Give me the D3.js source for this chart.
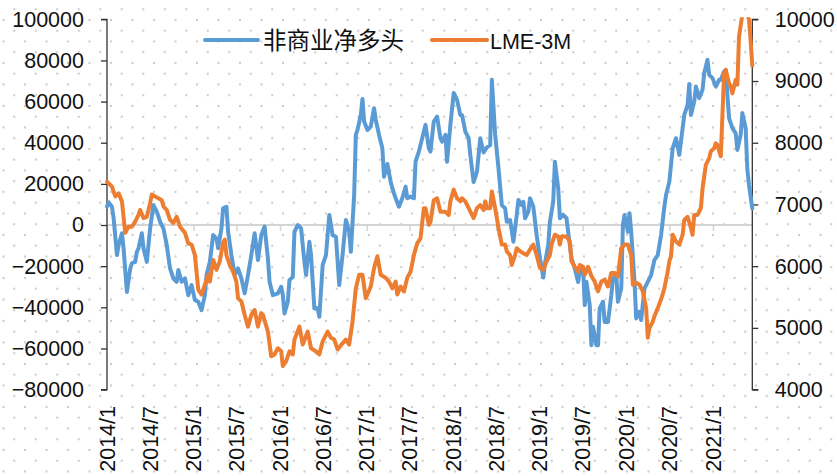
<!DOCTYPE html>
<html>
<head>
<meta charset="utf-8">
<script src="https://cdn.jsdelivr.net/npm/d3@7"></script>
<style>
  html, body { margin: 0; padding: 0; background: #fff; }
  svg { display: block; }
</style>
</head>
<body>
<svg id="chart" width="837" height="476"></svg>
<script>
// Weekly COT report dates are counted in weeks from the first report of 2014.
const FIRST_REPORT = new Date(2014, 0, 7);
const LAST_WEEK = 389;

const tickLabels = ["2014/1","2014/7","2015/1","2015/7","2016/1","2016/7","2017/1","2017/7",
                    "2018/1","2018/7","2019/1","2019/7","2020/1","2020/7","2021/1"];
const leftTicks = [-80000,-60000,-40000,-20000,0,20000,40000,60000,80000,100000];
const rightTicks = [4000,5000,6000,7000,8000,9000,10000];

const seriesNames = ["非商业净多头", "LME-3M"];

// Non-commercial net long (contracts)
const netLongWeek = [
  0,1,3,4,6,7,9,10,12,14, 15,17,18,19,21,22,24,26,28,30,
  32,34,36,38,40,42,43,45,47,49, 51,53,55,57,59,60,62,64,66,67,
  69,70,72,73,75,77,79,81,83,85, 87,89,91,93,95,97,98,100,103,105,
  106,107,109,110,112,113,115,117,119,120, 122,123,125,127,128,130,132,134,136,138,
  140,142,144,146,147,149,150,151,153,154, 155,157,159,161,162,164,166,167,169,171,
  172,173,174,176,178,180,181,183,185,186, 188,191,192,194,195,197,199,201,202,204,
  205,207,209,211,213,214,216,218,219,221, 223,225,227,229,231,232,234,236,238,240,
  241,243,245,247,248,250,251,252,254,255, 257,259,261,263,264,266,267,269,270,272,
  273,275,277,278,280,282,284,285,287,288, 289,291,292,293,295,296,297,299,300,302,
  304,305,307,308,310,311,312,314,315,316, 318,319,321,322,324,326,328,330,332,334,
  336,337,339,341,343,345,347,348,350,351, 352,354,355,357,359,360,362,363,365,367,
  369,370,372,373,374,375,377,379,380,382, 383,385,386,387,388,389
];
const netLong = [
  9000,11000,8900,3300,-14600,-9700,-4000,-11300,-32500,-21100, -18600,-17900,-13000,-11300,-4000,-11300,-17900,-1600,9700,6500,
  1600,-1600,-9700,-21100,-25900,-27600,-21900,-27600,-25900,-34100, -29200,-36500,-37300,-41400,-34100,-24300,-17900,-4900,-6500,-11300,
  -1600,8100,8900,-3300,-14600,-24300,-21100,-25900,-33200,-24300, -14600,-4000,-17000,-4900,-800,-16200,-27600,-34100,-33200,-30000,
  -34100,-43000,-37300,-26800,-25200,-3300,0,-1600,-17900,-24300, -8100,-14600,-40500,-40500,-44600,-19500,-14600,4900,-4900,-5700,
  -29200,-14600,2400,-3300,-13000,14600,43800,46200,53500,61300, 50300,46200,47800,56800,51100,43800,37300,23500,29700,21100,
  17900,15400,13000,8900,13000,18600,13000,13800,13000,30800, 35700,45400,48700,37300,35700,50300,52700,42200,40500,43800,
  30700,48700,64200,60800,53500,53500,45400,42200,34100,20900, 25800,42200,35300,37700,38900,70600,43800,27600,9700,8100,
  1600,2400,-8100,4900,12200,9700,11300,3300,6500,13000, 8900,-4900,-16200,-25500,-18600,-9700,1600,11300,30800,17900,
  3300,4900,3300,-3300,-16200,-21100,-27700,-22700,-21100,-38900, -27600,-38900,-58400,-49500,-58400,-58400,-40500,-37300,-47100,-47100,
  -34100,-25900,-24300,-37300,-30800,0,4900,-3300,5700,-3300, -27600,-45400,-42200,-46200,-30800,-27600,-24300,-17000,-14600,-4900,
  8900,14600,21100,37300,42200,34100,47100,53500,58400,68600, 53500,60000,67300,61700,65700,73800,80300,73000,71400,67300,
  70600,70600,74600,75400,63300,51900,47100,44600,36500,43800, 54400,47100,27200,19500,13800,8100
];

// LME 3-month price (USD/t)
const lmeWeek = [
  0,3,5,7,9,11,13,15,17,19, 20,22,24,26,27,29,31,33,34,36,
  38,40,42,44,47,49,51,53,55,57, 59,61,62,64,66,68,70,71,72,74,
  76,78,79,81,83,85,87,89,91,93, 94,97,99,101,103,105,106,108,110,112,
  113,116,118,121,123,126,128,130,133,135, 137,139,142,144,146,148,150,152,154,156,
  159,161,163,165,168,170,172,174,175,177, 179,181,183,185,187,189,191,192,194,195,
  197,199,201,202,204,206,207,209,211,213, 214,216,218,221,223,225,227,228,229,231,
  232,234,236,238,240,241,243,244,246,247, 249,251,253,255,257,259,261,263,265,267,
  268,270,272,273,274,277,279,280,282,284, 285,287,288,290,292,294,296,298,300,302,
  304,306,308,310,312,314,316,317,319,321, 323,325,326,327,329,330,332,334,336,338,
  339,340,341,343,345,347,348,350,352,353, 354,356,358,359,361,363,364,366,367,368,
  370,371,372,373,375,376,377,379,380,381, 383,384,385,386,387,388,389
];
const lme = [
  7370,7290,7130,7180,7050,6540,6640,6640,6720,6830, 6910,6780,6800,7020,7160,7130,7100,7070,6970,6910,
  6750,6700,6800,6640,6540,6370,6350,6180,5620,5540, 5700,5860,5750,6100,5940,6080,6380,6430,6180,6020,
  5910,5750,5480,5430,5210,5020,5210,5290,5020,5240, 5210,4940,4540,4570,4670,4620,4380,4460,4620,4570,
  4810,5020,4730,4940,4670,4620,4570,4780,4940,4840, 4810,4650,4750,4810,4730,5100,5640,5860,5860,5480,
  5670,5970,6160,5860,5810,5750,5640,5750,5540,5670, 5590,5810,5910,6180,6370,6450,6940,6940,6670,6720,
  7070,7100,6880,6880,6880,6830,7050,7240,7100,7050, 7100,7050,6940,6780,6940,6990,6910,7050,6940,6940,
  7210,6940,6620,6350,6350,6240,6180,6020,6180,6290, 6240,6210,6180,6270,6350,6180,5970,5940,6080,6180,
  6350,6510,6480,6350,6480,6480,6400,6080,5990,5910, 6020,5990,5860,5990,5840,5750,5590,5750,5780,5670,
  5890,5890,5830,6290,6350,6350,6180,5700,5730,5700, 5590,5320,4840,5000,5100,5190,5320,5460,5640,5910,
  6080,6160,6510,6400,6350,6510,6750,6800,6620,6510, 6830,6830,6940,7260,7640,7750,7860,7910,7990,7960,
  7780,8450,9130,9180,8960,8910,8800,9020,8940,9720, 10080,10120,10100,10080,10000,9650,9250
];

const weekDate = w => d3.timeDay.offset(FIRST_REPORT, 7 * w);
const parseTick = s => { const [y, m] = s.split("/").map(Number); return new Date(y, m - 1, 7); };

const svg = d3.select("#chart");
const W = 837, H = 476;
const plot = { left: 107, right: 752.3, top: 19.3, bottom: 389.6 };

const FONT = "'Liberation Sans', Arial, sans-serif";
const TEXT = "#111";
const BLUE = "#5B9BD5", ORANGE = "#ED7D31";

// Dotted backdrop
const defs = svg.append("defs");
const pat = defs.append("pattern")
  .attr("id", "dots").attr("patternUnits", "userSpaceOnUse")
  .attr("width", 21.5).attr("height", 21.5)
  .attr("x", 111 % 21.5).attr("y", 20 % 21.5);
pat.append("circle").attr("cx", 0).attr("cy", 0).attr("r", 1.1).attr("fill", "#c9c9c9");
pat.append("circle").attr("cx", 21.5).attr("cy", 0).attr("r", 1.1).attr("fill", "#c9c9c9");
pat.append("circle").attr("cx", 0).attr("cy", 21.5).attr("r", 1.1).attr("fill", "#c9c9c9");
pat.append("circle").attr("cx", 21.5).attr("cy", 21.5).attr("r", 1.1).attr("fill", "#c9c9c9");
pat.append("circle").attr("cx", 10.75).attr("cy", 10.75).attr("r", 1.1).attr("fill", "#c9c9c9");

svg.append("rect").attr("width", W).attr("height", H).attr("fill", "#fff");
svg.append("rect").attr("width", W).attr("height", H).attr("fill", "url(#dots)");

defs.append("clipPath").attr("id", "plotClip")
  .append("rect")
  .attr("x", plot.left - 4).attr("y", plot.top - 2)
  .attr("width", plot.right - plot.left + 8).attr("height", plot.bottom - plot.top + 4);

// Scales
const x = d3.scaleTime().domain([weekDate(0), weekDate(LAST_WEEK)]).range([plot.left, plot.right]);
const yL = d3.scaleLinear().domain([-80000, 100000]).range([plot.bottom, plot.top]);
const yR = d3.scaleLinear().domain([4000, 10000]).range([plot.bottom, plot.top]);

// Category axis drawn along zero
const tickDates = tickLabels.map(parseTick);
const xAxis = d3.axisBottom(x).tickValues(tickDates).tickSize(6).tickFormat("");
const gx = svg.append("g").attr("transform", `translate(0,${yL(0)})`).call(xAxis);
gx.select(".domain").attr("stroke", "#d4d4d4").attr("stroke-width", 2)
  .attr("d", `M${plot.left},0H${plot.right}`);
gx.selectAll(".tick line").attr("stroke", "#d4d4d4").attr("stroke-width", 1.5);

// Date labels in the low position
svg.append("g").selectAll("text")
  .data(tickDates)
  .join("text")
  .attr("transform", (d, i) => `translate(${x(d)},406) rotate(-90)`)
  .attr("text-anchor", "end")
  .attr("dy", "0.36em")
  .attr("font-family", FONT).attr("font-size", 21.5).attr("fill", TEXT)
  .text((d, i) => tickLabels[i]);

// Left value axis
const gl = svg.append("g").attr("transform", `translate(${plot.left},0)`)
  .call(d3.axisLeft(yL).tickValues(leftTicks).tickSize(6).tickPadding(17).tickFormat(d3.format("d")));
gl.select(".domain").attr("stroke", "#333").attr("stroke-width", 1.3).attr("d", `M-6,${plot.bottom}H0V${plot.top}H-6`);
gl.selectAll(".tick line").attr("stroke", "#333").attr("stroke-width", 1.3);
gl.selectAll(".tick text").attr("font-family", FONT).attr("font-size", 21.5).attr("fill", TEXT);

// Right value axis
const gr = svg.append("g").attr("transform", `translate(${plot.right},0)`)
  .call(d3.axisRight(yR).tickValues(rightTicks).tickSize(6).tickPadding(16.5).tickFormat(d3.format("d")));
gr.select(".domain").attr("stroke", "#333").attr("stroke-width", 1.3).attr("d", `M6,${plot.bottom}H0V${plot.top}H6`);
gr.selectAll(".tick line").attr("stroke", "#333").attr("stroke-width", 1.3);
gr.selectAll(".tick text").attr("font-family", FONT).attr("font-size", 21.5).attr("fill", TEXT);

// Series lines
const lines = svg.append("g").attr("clip-path", "url(#plotClip)");
const lineL = d3.line().x(d => x(weekDate(d[0]))).y(d => yL(d[1])).curve(d3.curveLinear);
const lineR = d3.line().x(d => x(weekDate(d[0]))).y(d => yR(d[1])).curve(d3.curveLinear);

lines.append("path")
  .datum(netLongWeek.map((w, i) => [w, netLong[i]]))
  .attr("d", lineL)
  .attr("fill", "none").attr("stroke", BLUE).attr("stroke-width", 4)
  .attr("stroke-linejoin", "round").attr("stroke-linecap", "round");

lines.append("path")
  .datum(lmeWeek.map((w, i) => [w, lme[i]]))
  .attr("d", lineR)
  .attr("fill", "none").attr("stroke", ORANGE).attr("stroke-width", 4)
  .attr("stroke-linejoin", "round").attr("stroke-linecap", "round");

// Legend
const legend = svg.append("g");
const legendItems = [
  { name: seriesNames[0], color: BLUE, x0: 205, x1: 258, tx: 263, font: "'Noto Sans CJK SC', sans-serif", size: 23.5 },
  { name: seriesNames[1], color: ORANGE, x0: 432, x1: 487, tx: 490, font: FONT, size: 21.5 }
];
legendItems.forEach(it => {
  legend.append("line")
    .attr("x1", it.x0).attr("x2", it.x1).attr("y1", 40).attr("y2", 40)
    .attr("stroke", it.color).attr("stroke-width", 4).attr("stroke-linecap", "round");
  legend.append("text")
    .attr("x", it.tx).attr("y", 41).attr("dy", "0.35em")
    .attr("font-family", it.font).attr("font-size", it.size).attr("fill", TEXT)
    .text(it.name);
});
</script>
</body>
</html>
